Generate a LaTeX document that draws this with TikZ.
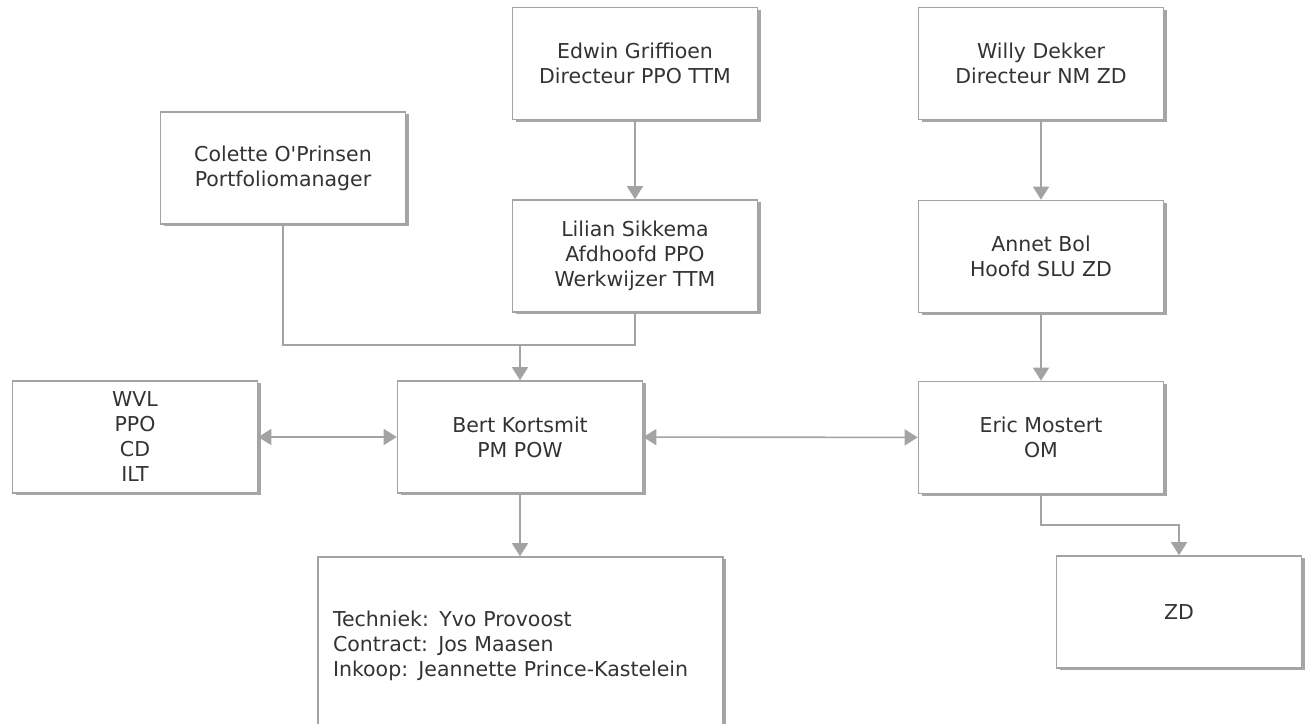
\documentclass[tikz,border=0pt]{standalone}
\usepackage{fontspec}
\setmainfont{DejaVu Sans}
\usetikzlibrary{positioning,arrows.meta,shadows}
\definecolor{linegray}{HTML}{A3A3A3}
\definecolor{textgray}{HTML}{333333}
\begin{document}
\begin{tikzpicture}[x=1pt,y=-1pt,
        box/.style={draw=linegray,line width=1.6pt,fill=white,
            minimum width=245pt,minimum height=112pt,align=center,
            text=textgray,font=\fontsize{20.5}{25}\selectfont,
            drop shadow={shadow xshift=3pt,shadow yshift=-2pt,fill=black!50,opacity=.7}},
        link/.style={draw=linegray,line width=1.6pt},
        onearrow/.style={-{Triangle[width=16pt,length=13pt]}},
        twoarrow/.style={{Triangle[width=16pt,length=13pt]}-{Triangle[width=16pt,length=13pt]}}]
    \useasboundingbox (0,0) rectangle (1306,723);
    \node [box] (edwin) at (635,63.5) {Edwin Griffioen\\Directeur PPO TTM};
    \node [box] (lilian) [below of=edwin,node distance=192.5pt] {Lilian Sikkema\\Afdhoofd PPO\\Werkwijzer TTM};
    \node [box] (willy) at (1041,63.5) {Willy Dekker\\Directeur NM ZD};
    \node [box] (annet) [below of=willy,node distance=193pt] {Annet Bol\\Hoofd SLU ZD};
    \node [box] (eric) [below of=annet,node distance=181pt] {Eric Mostert\\OM};
    \node [box] (colette) at (283,168) {Colette O\textquotesingle Prinsen\\Portfoliomanager};
    \node [box] (bert) at (520,437) {Bert Kortsmit\\PM POW};
    \node [box] (wvl) [left of=bert,node distance=385pt] {WVL\\PPO\\CD\\ILT};
    \node [box] (zd) at (1179,612) {ZD};
    \node [box,minimum width=405pt,minimum height=178pt,text width=375pt,align=left] (team) at (520.5,646)
        {Techniek: Yvo Provoost\\Contract: Jos Maasen\\Inkoop: Jeannette Prince-Kastelein};
    % lijnen
    \coordinate (join) at (bert.north |- 0,345);
    \draw [link] (colette.south) |- (join);
    \draw [link] (lilian.south) |- (join);
    \draw [link,onearrow] (join) -- (bert.north);
    \draw [link,onearrow] (edwin) -- (lilian);
    \draw [link,onearrow] (willy) -- (annet);
    \draw [link,onearrow] (annet) -- (eric);
    \draw [link,twoarrow] (wvl) -- (bert);
    \draw [link,twoarrow] (bert) -- (eric);
    \draw [link,onearrow] (bert.south) -- (bert.south |- team.north);
    \coordinate (bend) at (eric.south |- 0,525);
    \draw [link,onearrow] (eric.south) -- (bend) -| (zd.north);
\end{tikzpicture}
\end{document}
